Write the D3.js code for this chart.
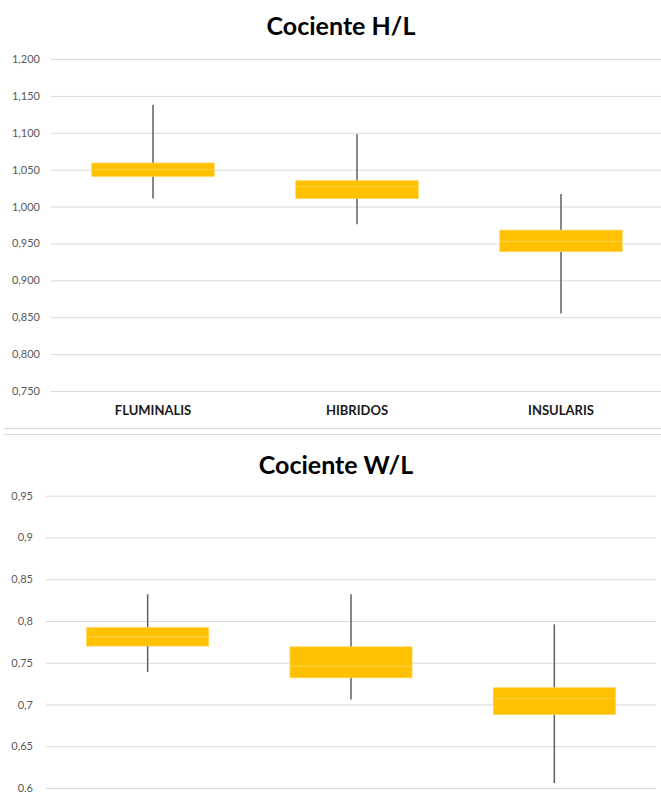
<!DOCTYPE html>
<html><head><meta charset="utf-8">
<script src="https://cdn.jsdelivr.net/npm/d3@7"></script>
<style>body{margin:0;background:#fff;} svg{display:block;}</style>
</head><body>
<script>
const categories = ["FLUMINALIS", "HIBRIDOS", "INSULARIS"];
// Cociente H/L
const hlMin = [1.011, 0.976, 0.855];
const hlQ1 = [1.041, 1.011, 0.939];
const hlMedian = [1.050, 1.027, 0.953];
const hlQ3 = [1.059, 1.035, 0.968];
const hlMax = [1.138, 1.098, 1.017];
const hlTicks = [0.75, 0.8, 0.85, 0.9, 0.95, 1.0, 1.05, 1.1, 1.15, 1.2];
// Cociente W/L
const wlMin = [0.739, 0.706, 0.606];
const wlQ1 = [0.770, 0.732, 0.688];
const wlMedian = [0.781, 0.746, 0.707];
const wlQ3 = [0.792, 0.769, 0.720];
const wlMax = [0.832, 0.832, 0.796];
const wlTicks = [0.6, 0.65, 0.7, 0.75, 0.8, 0.85, 0.9, 0.95];

const W = 661, H = 792;
const svg = d3.select("body").append("svg").attr("width", W).attr("height", H);
const FONT = "Lato, 'Open Sans', sans-serif";

function chart(cfg) {
  const g = svg.append("g");
  const y = d3.scaleLinear().domain(cfg.domain).range(cfg.yRange);
  const x = d3.scaleBand().domain(categories).range(cfg.xRange).paddingInner(0.4).paddingOuter(0.2);
  const yAxis = d3.axisLeft(y).tickValues(cfg.ticks).tickSize(-(cfg.gridEnd - cfg.xRange[0])).tickPadding(cfg.xRange[0] - cfg.labelX).tickFormat(cfg.fmt);
  const ag = g.append("g").attr("transform", `translate(${cfg.xRange[0]},0)`).call(yAxis);
  ag.select(".domain").remove();
  ag.selectAll(".tick line").attr("stroke", "#d9d9d9").attr("stroke-width", 1);
  ag.selectAll(".tick text").attr("fill", "#595959").style("font-family", FONT).style("font-size", "11px");
  const data = categories.map((c, i) => ({c, min: cfg.min[i], q1: cfg.q1[i], med: cfg.med[i], q3: cfg.q3[i], max: cfg.max[i]}));
  const cx = d => x(d.c) + x.bandwidth() / 2;
  g.selectAll(".wh").data(data).join("line")
    .attr("x1", cx).attr("x2", cx).attr("y1", d => y(d.max)).attr("y2", d => y(d.min))
    .attr("stroke", "#5f5f5f").attr("stroke-width", 1.5);
  g.selectAll(".lo").data(data).join("rect")
    .attr("x", d => x(d.c)).attr("width", x.bandwidth())
    .attr("y", d => y(d.med)).attr("height", d => y(d.q1) - y(d.med))
    .attr("fill", "#FFC000").attr("stroke", "#FFD24D").attr("stroke-width", 0.8);
  g.selectAll(".hi").data(data).join("rect")
    .attr("x", d => x(d.c)).attr("width", x.bandwidth())
    .attr("y", d => y(d.q3)).attr("height", d => y(d.med) - y(d.q3))
    .attr("fill", "#FFC000").attr("stroke", "#FFD24D").attr("stroke-width", 0.8);
  if (cfg.showCats) {
    g.selectAll(".cat").data(categories).join("text")
      .attr("x", d => x(d) + x.bandwidth() / 2).attr("y", cfg.catY)
      .attr("text-anchor", "middle").style("font-family", FONT).style("font-size", "13px")
      .style("font-weight", "bold").attr("fill", "#1a1a1a").text(d => d);
  }
  g.append("text").attr("x", cfg.titleX).attr("y", cfg.titleY).attr("text-anchor", "middle")
    .style("font-family", FONT).style("font-size", "25px").style("font-weight", "bold")
    .attr("fill", "#000").text(cfg.title);
}

const fmt3 = d => d3.format(".3f")(d).replace(".", ",");
const fmtShort = d => String(+d.toFixed(2)).replace(".", ",");

chart({title: "Cociente H/L", titleX: 341, titleY: 35, domain: [0.75, 1.2], yRange: [391, 59],
  xRange: [51, 663], gridEnd: 661, labelX: 40, ticks: hlTicks, fmt: fmt3,
  min: hlMin, q1: hlQ1, med: hlMedian, q3: hlQ3, max: hlMax, showCats: true, catY: 415});

chart({title: "Cociente W/L", titleX: 336, titleY: 474, domain: [0.6, 0.95], yRange: [788, 495.7],
  xRange: [46, 656], gridEnd: 656, labelX: 33, ticks: wlTicks, fmt: fmtShort,
  min: wlMin, q1: wlQ1, med: wlMedian, q3: wlQ3, max: wlMax, showCats: false});

svg.append("line").attr("x1", 4).attr("x2", W).attr("y1", 428.5).attr("y2", 428.5).attr("stroke", "#d9d9d9");
svg.append("line").attr("x1", 4).attr("x2", W).attr("y1", 434.5).attr("y2", 434.5).attr("stroke", "#d9d9d9");
</script>
</body></html>
